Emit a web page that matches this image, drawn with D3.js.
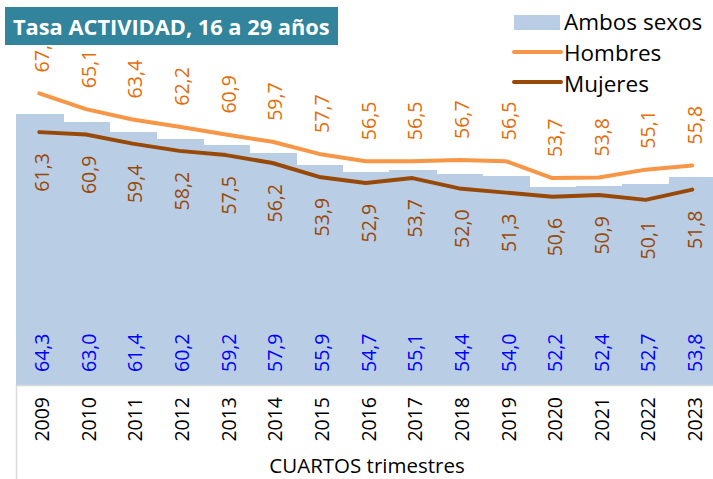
<!DOCTYPE html>
<html>
<head>
<meta charset="utf-8">
<script src="https://cdn.jsdelivr.net/npm/d3@7"></script>
<style>
  body { margin: 0; background: #fff; }
  svg { display: block; font-family: 'Open Sans', sans-serif; }
</style>
</head>
<body>
<svg id="chart" width="713" height="479"></svg>
<script>
const years = ['2009', '2010', '2011', '2012', '2013', '2014', '2015', '2016',
    '2017', '2018', '2019', '2020', '2021', '2022', '2023'];
const ambos = [64.3, 63.0, 61.4, 60.2, 59.2, 57.9, 55.9, 54.7, 55.1, 54.4, 54.0, 52.2, 52.4, 52.7, 53.8];
const hombres = [67.7, 65.1, 63.4, 62.2, 60.9, 59.7, 57.7, 56.5, 56.5, 56.7, 56.5, 53.7, 53.8, 55.1, 55.8];
const mujeres = [61.3, 60.9, 59.4, 58.2, 57.5, 56.2, 53.9, 52.9, 53.7, 52.0, 51.3, 50.6, 50.9, 50.1, 51.8];

const fmt = v => d3.format('.1f')(v).replace('.', ',');

const svg = d3.select('#chart');
const x = d3.scaleBand().domain(years).range([16, 715.6]).padding(0);
const y = d3.scaleLinear().domain([19.5, 80]).range([385, 19]);
const cx = d => x(d) + x.bandwidth() / 2;

// bars, adjacent like a column chart with no gap
svg.append('g')
    .attr('shape-rendering', 'crispEdges')
    .selectAll('rect')
    .data(years)
    .join('rect')
    .attr('x', d => x(d))
    .attr('width', x.bandwidth() + 1)
    .attr('y', (d, i) => y(ambos[i]))
    .attr('height', (d, i) => y.range()[0] - y(ambos[i]))
    .attr('fill', '#b9cde5');

// axis
svg.append('line')
    .attr('x1', 16).attr('x2', 713)
    .attr('y1', 385.5).attr('y2', 385.5)
    .attr('stroke', '#d9d9d9').attr('stroke-width', 1.5);
svg.append('line')
    .attr('x1', 16.5).attr('x2', 16.5)
    .attr('y1', 385).attr('y2', 479)
    .attr('stroke', '#d9d9d9').attr('stroke-width', 1.5);

const rotLabel = (g, data, ypos, anchor, color) => g.selectAll('text')
    .data(data)
    .join('text')
    .attr('transform', (d, i) => `translate(${cx(years[i]) + 3},${ypos(d, i)}) rotate(-90)`)
    .attr('text-anchor', anchor)
    .attr('dy', '0.35em')
    .attr('font-size', 19.5)
    .attr('fill', color)
    .text(d => fmt(d));

// bar labels near the base
rotLabel(svg.append('g'), ambos, () => 372, 'start', '#0000ff');

// lines
const line = d3.line().x((d, i) => cx(years[i])).y(d => y(d));
svg.append('path')
    .datum(hombres)
    .attr('d', line)
    .attr('fill', 'none')
    .attr('stroke', '#f79646')
    .attr('stroke-width', 4)
    .attr('stroke-linecap', 'round')
    .attr('stroke-linejoin', 'round');
svg.append('path')
    .datum(mujeres)
    .attr('d', line)
    .attr('fill', 'none')
    .attr('stroke', '#984807')
    .attr('stroke-width', 4)
    .attr('stroke-linecap', 'round')
    .attr('stroke-linejoin', 'round');

rotLabel(svg.append('g'), hombres, d => y(d) - 21, 'start', '#e46c0a');
rotLabel(svg.append('g'), mujeres, d => y(d) + 21, 'end', '#984807');

// year labels
svg.append('g')
    .selectAll('text')
    .data(years)
    .join('text')
    .attr('transform', d => `translate(${cx(d) + 3},397) rotate(-90)`)
    .attr('text-anchor', 'end')
    .attr('dy', '0.35em')
    .attr('font-size', 19.5)
    .attr('fill', '#000')
    .text(d => d);

svg.append('text')
    .attr('x', 367).attr('y', 473)
    .attr('text-anchor', 'middle')
    .attr('font-size', 20.5)
    .attr('fill', '#000')
    .text('CUARTOS trimestres');

// title box
svg.append('rect')
    .attr('x', 5).attr('y', 7)
    .attr('width', 333).attr('height', 38)
    .attr('fill', '#31849b');
svg.append('text')
    .attr('x', 13).attr('y', 35)
    .attr('font-size', 21.8)
    .attr('font-weight', 'bold')
    .attr('fill', '#fff')
    .text('Tasa ACTIVIDAD, 16 a 29 años');

// legend
const legend = svg.append('g');
legend.append('rect')
    .attr('x', 514).attr('y', 15).attr('width', 46).attr('height', 15)
    .attr('fill', '#b9cde5');
legend.append('line')
    .attr('x1', 514).attr('x2', 561).attr('y1', 52).attr('y2', 52)
    .attr('stroke', '#f79646').attr('stroke-width', 4).attr('stroke-linecap', 'round');
legend.append('line')
    .attr('x1', 514).attr('x2', 561).attr('y1', 82).attr('y2', 82)
    .attr('stroke', '#984807').attr('stroke-width', 4).attr('stroke-linecap', 'round');
legend.selectAll('text.lg')
    .data(['Ambos sexos', 'Hombres', 'Mujeres'])
    .join('text')
    .attr('class', 'lg')
    .attr('x', 564)
    .attr('y', (d, i) => 30 + i * 31)
    .attr('font-size', 22.5)
    .attr('fill', '#000')
    .text(d => d);
</script>
</body>
</html>
